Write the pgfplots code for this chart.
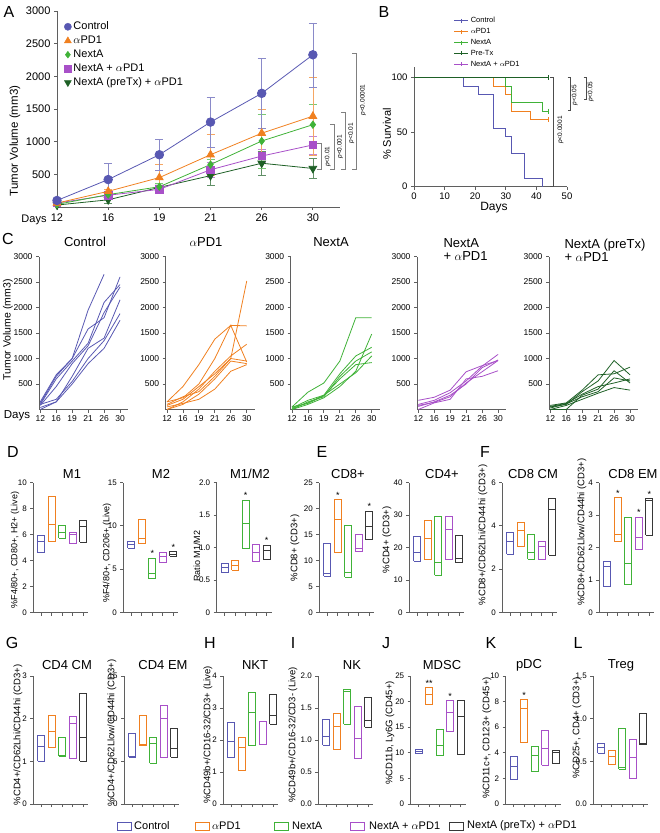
\documentclass[border=0pt]{standalone}
\usepackage{fontspec}
\setmainfont{Liberation Sans}
\usepackage{pgfplots}
\pgfplotsset{compat=1.18}
\usepackage{pgfplotstable}

\definecolor{cA}{RGB}{88,88,178}
\definecolor{cB}{RGB}{240,128,32}
\definecolor{cC}{RGB}{64,178,56}
\definecolor{cD}{RGB}{168,80,200}
\definecolor{cE}{RGB}{30,96,38}
\definecolor{cG}{RGB}{55,55,55}
\definecolor{axc}{RGB}{95,95,95}

\newcommand{\fs}[1]{\fontsize{#1}{#1}\selectfont}

\pgfplotsset{
  every axis/.append style={/pgf/number format/assume math mode=true,
    /pgf/number format/1000 sep={}, scaled ticks=false},
  gp/.style={scale only axis, anchor=south west, clip=false,
    axis x line*=bottom, axis y line*=left,
    axis line style={axc, line width=0.8pt}, tick style={axc, line width=0.8pt},
    tick align=outside, major tick length=3pt},
  bx/.style={gp, width=55pt, xmin=-0.76, xmax=4.48, ymin=0,
    xtick={0,...,4}, xticklabels={}, ticklabel style={font=\fs{8}}},
  r1/.style={bx, height=130pt},
  r2/.style={bx, height=128pt},
  cs/.style={gp, width=89pt, height=153pt, xmin=-0.08, xmax=5.5, ymin=0, ymax=3000,
    xtick={0,...,5}, xticklabels={12,16,19,21,26,30},
    ytick={500,1000,...,3000}, ticklabel style={font=\fs{8.5}}},
}

% one float bar: position, colour, min, median, max
\newcommand{\bx}[5]{%
  \pgfmathsetmacro\xl{#1-0.33}\pgfmathsetmacro\xr{#1+0.33}%
  \addplot[#2, line width=0.8pt] coordinates {(\xl,#3) (\xr,#3) (\xr,#5) (\xl,#5) (\xl,#3)};
  \addplot[#2, line width=0.8pt] coordinates {(\xl,#4) (\xr,#4)};}
\newcommand{\st}[3][*]{\node[above, inner sep=1pt, font=\fs{9}] at (axis cs:#2,#3) {#1};}

% individual tumours, days 12 16 19 21 26 30 at 0..5
\pgfplotstableread{
d L1 L2 L3 L4 L5 L6 L7
0 150 120 100 80 40 100 0
1 680 650 600 450 150 200 150
2 1000 1000 950 900 650 550 500
3 1950 1580 1300 1250 1200 1000 900
4 2650 1800 2100 1900 1400 1350 1200
5 nan 2600 2450 2400 2150 1880 1750
}\ctrl
\pgfplotstableread{
d L1 L2 L3 L4 L5 L6 L7
0 150 80 0 100 0 50 150
1 450 200 150 250 100 120 230
2 880 450 400 350 300 200 500
3 1380 700 750 650 600 400 1000
4 1650 1000 1050 1000 950 750 1650
5 1640 2520 1280 950 900 880 930
}\apd
\pgfplotstableread{
d L1 L2 L3 L4 L5 L6
0 50 30 0 50 0 20
1 340 180 150 120 100 130
2 520 280 250 270 230 280
3 950 700 650 600 450 500
4 1800 1050 950 880 750 720
5 1800 1220 1130 920 1480 1050
}\nexta
\pgfplotstableread{
d L1 L2 L3 L4 L5
0 180 100 60 0 80
1 240 180 150 130 140
2 380 330 280 200 250
3 740 560 500 600 520
4 860 850 820 650 740
5 960 1080 970 760 960
}\combo
\pgfplotstableread{
d L1 L2 L3 L4 L5 L6
0 50 80 0 30 60 0
1 100 130 0 110 120 80
2 350 380 280 250 300 200
3 560 680 400 350 450 320
4 960 700 760 620 520 430
5 680 830 520 560 600 380
}\pretx

\begin{document}
\begin{tikzpicture}
\path[use as bounding box] (0pt,0pt) rectangle (660pt,-833pt);

% ---------------- A
\begin{axis}[gp, at={(57pt,-207pt)}, width=283pt, height=196pt,
  xmin=0, xmax=5.53, ymin=0, ymax=3000,
  xtick={0,...,5}, xticklabels={12,16,19,21,26,30},
  ytick={500,1000,...,3000}, ticklabel style={font=\fs{11}},
  legend style={draw=none, fill=none, at={(0.025,0.955)}, anchor=north west,
    font=\fs{11}, row sep=0.8pt, inner sep=0pt}, legend cell align=left]
\addlegendimage{only marks, mark=*, cA, mark size=3.6}\addlegendentry{Control}
\addlegendimage{only marks, mark=triangle*, cB, mark size=4}\addlegendentry{$\alpha$PD1}
\addlegendimage{only marks, mark=diamond*, cC, mark size=3.4}\addlegendentry{NextA}
\addlegendimage{only marks, mark=square*, cD, mark size=3.2}\addlegendentry{NextA + $\alpha$PD1}
\addlegendimage{only marks, mark=triangle*, cE, mark size=4, mark options={rotate=180}}\addlegendentry{NextA (preTx) + $\alpha$PD1}
\addplot[cE, forget plot, line width=0.8pt, mark=triangle*, mark size=4.4, mark options={rotate=180},
  error bars/.cd, y dir=both, y explicit, error bar style={cE!70, line width=0.7pt},
  error mark options={rotate=90, mark size=4pt, cE!70}]
  coordinates {(0,30)+-(0,20) (1,110)+-(0,50) (2,300)+-(0,40) (3,480)+-(0,150) (4,670)+-(0,190) (5,590)+-(0,150)};
\addplot[cD, forget plot, line width=0.8pt, mark=square*, mark size=3.8,
  error bars/.cd, y dir=both, y explicit, error bar style={cD!70, line width=0.7pt},
  error mark options={rotate=90, mark size=4pt, cD!70}]
  coordinates {(0,60)+-(0,20) (1,180)+-(0,40) (2,270)+-(0,60) (3,570)+-(0,110) (4,780)+-(0,100) (5,950)+-(0,140)};
\addplot[cC, forget plot, line width=0.8pt, mark=diamond*, mark size=3.6,
  error bars/.cd, y dir=both, y explicit, error bar style={cC!70, line width=0.7pt},
  error mark options={rotate=90, mark size=4pt, cC!70}]
  coordinates {(0,40)+-(0,20) (1,190)+-(0,30) (2,310)+-(0,60) (3,650)+-(0,80) (4,1010)+-(0,410) (5,1260)+-(0,320)};
\addplot[cB, forget plot, line width=0.8pt, mark=triangle*, mark size=4.4,
  error bars/.cd, y dir=both, y explicit, error bar style={cB!70, line width=0.7pt},
  error mark options={rotate=90, mark size=4pt, cB!70}]
  coordinates {(0,60)+-(0,20) (1,240)+-(0,40) (2,450)+-(0,210) (3,800)+-(0,320) (4,1130)+-(0,370) (5,1390)+-(0,600)};
\addplot[cA, forget plot, line width=0.8pt, mark=*, mark size=4.3,
  error bars/.cd, y dir=both, y explicit, error bar style={cA!70, line width=0.7pt},
  error mark options={rotate=90, mark size=4pt, cA!70}]
  coordinates {(0,100)+-(0,40) (1,420)+-(0,250) (2,800)+-(0,240) (3,1300)+-(0,380) (4,1740)+-(0,540) (5,2330)+-(0,490)};
\draw[gray, line width=0.6pt] (axis cs:5.08,974) -- (axis cs:5.16,974) -- (axis cs:5.16,577) -- (axis cs:5.08,577);
\draw[gray, line width=0.6pt] (axis cs:5.33,1270) -- (axis cs:5.41,1270) -- (axis cs:5.41,577) -- (axis cs:5.33,577);
\draw[gray, line width=0.6pt] (axis cs:5.55,1444) -- (axis cs:5.63,1444) -- (axis cs:5.63,577) -- (axis cs:5.55,577);
\draw[gray, line width=0.6pt] (axis cs:5.77,2352) -- (axis cs:5.85,2352) -- (axis cs:5.85,577) -- (axis cs:5.77,577);
\node[rotate=90, font=\fs{6.5}] at (axis cs:5.29,770) {\textit{p}<0.01};
\node[rotate=90, font=\fs{6.5}] at (axis cs:5.53,923) {\textit{p}<0.001};
\node[rotate=90, font=\fs{6.5}] at (axis cs:5.75,1128) {\textit{p}<0.01};
\node[rotate=90, font=\fs{6.5}] at (axis cs:5.98,1638) {\textit{p}<0.00001};
\end{axis}
\node[font=\fs{16}] at (9pt,-12pt) {A};
\node[rotate=90, font=\fs{11.5}] at (15pt,-141pt) {Tumor Volume (mm3)};
\node[font=\fs{11}] at (34pt,-220pt) {Days};

% ---------------- B
\begin{axis}[gp, at={(414pt,-186.7pt)}, width=153pt, height=120pt,
  xmin=0, xmax=50, ymin=0, ymax=110, xtick={0,10,...,50}, ytick={0,50,100},
  ticklabel style={font=\fs{9.5}},
  legend style={draw=none, fill=none, at={(0.26,1.43)}, anchor=north west,
    font=\fs{7.5}, row sep=0.2pt, inner sep=0pt}, legend cell align=left,
  legend image code/.code={\draw[#1, mark repeat=2, mark phase=2] plot coordinates {(0pt,0pt) (7pt,0pt) (14pt,0pt)};}]
\addlegendimage{cA, line width=0.8pt, mark=|, mark size=2pt}\addlegendentry{Control}
\addlegendimage{cB, line width=0.8pt, mark=|, mark size=2pt}\addlegendentry{$\alpha$PD1}
\addlegendimage{cC, line width=0.8pt, mark=|, mark size=2pt}\addlegendentry{NextA}
\addlegendimage{cE, line width=0.8pt, mark=|, mark size=2pt}\addlegendentry{Pre-Tx}
\addlegendimage{cD, line width=0.8pt, mark=|, mark size=2pt}\addlegendentry{NextA + $\alpha$PD1}
\addplot[cD, forget plot, const plot, line width=0.9pt] coordinates {(0,100) (44,100)};
\addplot[cA, forget plot, const plot, line width=0.9pt] coordinates {(0,100) (16,92.3) (21,84.6) (26,53.8) (30,46.2) (32,30.8) (36,7.7) (42,0)};
\addplot[cB, forget plot, const plot, line width=0.9pt, mark=|, mark size=2.5pt, mark indices={6}] coordinates {(0,100) (26,92.3) (30,84.6) (32,69.2) (38,61.5) (44,61.5)};
\addplot[cC, forget plot, const plot, line width=0.9pt, mark=|, mark size=2.5pt, mark indices={5}] coordinates {(0,100) (30,92.3) (32,76.9) (42,69.2) (44,69.2)};
\addplot[cE, forget plot, const plot, line width=0.9pt, mark=|, mark size=2.5pt, mark indices={2}] coordinates {(0,100) (44,100)};
\draw[black!70, line width=0.6pt] (axis cs:44.6,100) -- (axis cs:45.4,100) -- (axis cs:45.4,0) -- (axis cs:44.6,0);
\draw[black!70, line width=0.6pt] (axis cs:50.2,100) -- (axis cs:51,100) -- (axis cs:51,70) -- (axis cs:50.2,70);
\draw[black!70, line width=0.6pt] (axis cs:55.4,100) -- (axis cs:56.2,100) -- (axis cs:56.2,80) -- (axis cs:55.4,80);
\node[rotate=90, font=\fs{6.5}] at (axis cs:47.9,52) {\textit{p}<0.0001};
\node[rotate=90, font=\fs{6.5}] at (axis cs:52.5,84) {\textit{p}<0.05};
\node[rotate=90, font=\fs{6.5}] at (axis cs:57.8,87) {\textit{p}<0.05};
\end{axis}
\node[font=\fs{16}] at (384pt,-12pt) {B};
\node[rotate=90, font=\fs{11}] at (387pt,-134pt) {\% Survival};
\node[font=\fs{12}] at (494pt,-208pt) {Days};

% ---------------- C
\begin{axis}[cs, at={(39pt,-409.5pt)}]
\pgfplotsinvokeforeach{L1,L2,L3,L4,L5,L6,L7}{\addplot[cA, line width=0.8pt] table[x=d, y=#1] {\ctrl};}
\end{axis}
\begin{axis}[cs, at={(165.7pt,-409.5pt)}]
\pgfplotsinvokeforeach{L1,L2,L3,L4,L5,L6,L7}{\addplot[cB, line width=0.8pt] table[x=d, y=#1] {\apd};}
\end{axis}
\begin{axis}[cs, at={(290.7pt,-409.5pt)}]
\pgfplotsinvokeforeach{L1,L2,L3,L4,L5,L6}{\addplot[cC, line width=0.8pt] table[x=d, y=#1] {\nexta};}
\end{axis}
\begin{axis}[cs, at={(417pt,-409.5pt)}]
\pgfplotsinvokeforeach{L1,L2,L3,L4,L5}{\addplot[cD, line width=0.8pt] table[x=d, y=#1] {\combo};}
\end{axis}
\begin{axis}[cs, at={(549pt,-409.5pt)}]
\pgfplotsinvokeforeach{L1,L2,L3,L4,L5,L6}{\addplot[cE, line width=0.8pt] table[x=d, y=#1] {\pretx};}
\end{axis}
\node[font=\fs{16}] at (8pt,-239pt) {C};
\node[font=\fs{13}] at (85pt,-242pt) {Control};
\node[font=\fs{13}] at (206pt,-242pt) {$\alpha$PD1};
\node[font=\fs{13}] at (331pt,-242pt) {NextA};
\node[font=\fs{13}, anchor=west, align=left] at (440pt,-250pt) {NextA\\+ $\alpha$PD1};
\node[font=\fs{13}, anchor=west, align=left] at (561pt,-250pt) {NextA (preTx)\\+ $\alpha$PD1};
\node[rotate=90, font=\fs{10.5}] at (8pt,-330pt) {Tumor Volume (mm3)};
\node[font=\fs{11.5}] at (17pt,-416pt) {Days};

% ---------------- D, E, F
\begin{axis}[r1, at={(33.3pt,-612.5pt)}, ymax=10, ytick={0,2,...,10}]
\bx{0}{cA}{4.6}{5.5}{5.9} \bx{1}{cB}{5.5}{6.8}{8.9} \bx{2}{cC}{5.7}{6.2}{6.7}
\bx{3}{cD}{5.3}{6.0}{6.2} \bx{4}{cG}{5.4}{6.6}{7.1}
\end{axis}
\begin{axis}[r1, at={(123.3pt,-612.5pt)}, ymax=15, ytick={0,5,10,15}]
\bx{0}{cA}{7.4}{7.9}{8.2} \bx{1}{cB}{8.0}{8.5}{10.8} \bx{2}{cC}{3.9}{4.5}{6.3}
\bx{3}{cD}{5.8}{6.5}{6.9} \bx{4}{cG}{6.5}{6.7}{7.0}
\st{2}{6.3} \st{4}{7.0}
\end{axis}
\begin{axis}[r1, at={(216.7pt,-612.5pt)}, ymax=2, ytick={0,0.5,1,1.5,2}, yticklabels={0,0.5,1.0,1.5,2.0}]
\bx{0}{cA}{0.61}{0.70}{0.75} \bx{1}{cB}{0.65}{0.73}{0.80} \bx{2}{cC}{0.99}{1.37}{1.73}
\bx{3}{cD}{0.78}{0.93}{1.05} \bx{4}{cG}{0.81}{0.96}{1.04}
\st{2}{1.73} \st{4}{1.04}
\end{axis}
\begin{axis}[r1, at={(319.3pt,-612.5pt)}, ymax=25, ytick={0,5,...,25}]
\bx{0}{cA}{7.0}{7.6}{13.3} \bx{1}{cB}{11.5}{18.0}{21.7} \bx{2}{cC}{6.8}{7.8}{16.8}
\bx{3}{cD}{11.8}{12.3}{15.1} \bx{4}{cG}{14.0}{16.5}{19.5}
\st{1}{21.7} \st{4}{19.5}
\end{axis}
\begin{axis}[r1, at={(409pt,-612.5pt)}, ymax=40, ytick={0,10,...,40}]
\bx{0}{cA}{15.7}{18.5}{23.4} \bx{1}{cB}{16.2}{22.7}{28.2} \bx{2}{cC}{11.4}{15.4}{29.5}
\bx{3}{cD}{16.2}{25.6}{29.5} \bx{4}{cG}{15.3}{16.6}{23.6}
\end{axis}
\begin{axis}[r1, at={(502.3pt,-612.5pt)}, ymax=6, ytick={0,2,4,6}]
\bx{0}{cA}{2.7}{3.3}{3.7} \bx{1}{cB}{3.06}{3.77}{4.15} \bx{2}{cC}{2.45}{2.76}{3.6}
\bx{3}{cD}{2.43}{3.06}{3.3} \bx{4}{cG}{2.65}{4.77}{5.25}
\end{axis}
\begin{axis}[r1, at={(599.3pt,-612.5pt)}, ymax=4, ytick={0,1,...,4}]
\bx{0}{cA}{0.8}{1.41}{1.56} \bx{1}{cB}{2.18}{2.4}{3.53} \bx{2}{cC}{0.85}{1.5}{2.92}
\bx{3}{cD}{1.93}{2.3}{2.94} \bx{4}{cG}{2.38}{3.46}{3.5}
\st{1}{3.53} \st{3}{2.94} \st{4}{3.5}
\end{axis}
\node[font=\fs{16}] at (13pt,-452pt) {D};
\node[font=\fs{16}] at (322pt,-452pt) {E};
\node[font=\fs{16}] at (485pt,-452pt) {F};
\node[font=\fs{13}] at (72pt,-474pt) {M1};
\node[font=\fs{13}] at (161pt,-474pt) {M2};
\node[font=\fs{13}] at (250pt,-474pt) {M1/M2};
\node[font=\fs{13}] at (348pt,-474pt) {CD8+};
\node[font=\fs{13}] at (442pt,-474pt) {CD4+};
\node[font=\fs{13}] at (533pt,-474pt) {CD8 CM};
\node[font=\fs{13}] at (633pt,-474pt) {CD8 EM};
\node[rotate=90, font=\fs{9}] at (15pt,-550pt) {\%F4/80+, CD80+, H2+ (Live)};
\node[rotate=90, font=\fs{9}] at (107pt,-553pt) {\%F4/80+, CD206+ (Live)};
\node[rotate=90, font=\fs{9}] at (197pt,-556pt) {Ratio M1/M2};
\node[rotate=90, font=\fs{9.5}] at (295pt,-548pt) {\%CD8+ (CD3+)};
\node[rotate=90, font=\fs{9.5}] at (387pt,-540pt) {\%CD4+ (CD3+)};
\node[rotate=90, font=\fs{9.5}] at (483pt,-535pt) {\%CD8+/CD62Lhi/CD44hi (CD3+)};
\node[rotate=90, font=\fs{9.5}] at (582pt,-532pt) {\%CD8+/CD62Llow/CD44hi (CD3+)};

% ---------------- G to L
\begin{axis}[r2, at={(33.3pt,-804pt)}, ymax=3, ytick={0,1,2,3}]
\bx{0}{cA}{1.0}{1.36}{1.61} \bx{1}{cB}{1.33}{1.71}{2.08} \bx{2}{cC}{1.12}{1.14}{1.57}
\bx{3}{cD}{1.08}{1.89}{2.06} \bx{4}{cG}{1.01}{1.57}{2.6}
\end{axis}
\begin{axis}[r2, at={(124pt,-804pt)}, ymax=15, ytick={0,5,10,15}]
\bx{0}{cA}{5.5}{5.6}{8.3} \bx{1}{cB}{6.9}{7.0}{10.4} \bx{2}{cC}{4.75}{7.1}{7.8}
\bx{3}{cD}{5.5}{10.0}{11.5} \bx{4}{cG}{5.5}{6.5}{8.84}
\end{axis}
\begin{axis}[r2, at={(223.3pt,-804pt)}, ymax=4, ytick={0,1,...,4}]
\bx{0}{cA}{1.45}{1.97}{2.55} \bx{1}{cB}{1.06}{1.78}{2.08} \bx{2}{cC}{1.82}{2.87}{3.5}
\bx{3}{cD}{1.85}{1.85}{2.58} \bx{4}{cG}{2.49}{2.77}{3.43}
\end{axis}
\begin{axis}[r2, at={(318.3pt,-804pt)}, ymax=2, ytick={0,0.5,1,1.5,2}, yticklabels={0.0,0.5,1.0,1.5,2.0}]
\bx{0}{cA}{0.92}{1.05}{1.32} \bx{1}{cB}{0.86}{1.22}{1.41} \bx{2}{cC}{1.25}{1.76}{1.79}
\bx{3}{cD}{0.71}{1.02}{1.53} \bx{4}{cG}{1.2}{1.3}{1.67}
\end{axis}
\begin{axis}[r2, at={(410.7pt,-804pt)}, ymax=25, ytick={0,5,...,25}]
\bx{0}{cA}{9.8}{10.3}{10.7} \bx{1}{cB}{19.4}{21.4}{22.7} \bx{2}{cC}{9.4}{11.5}{14.5}
\bx{3}{cD}{14.1}{17.9}{20.2} \bx{4}{cG}{9.6}{17.1}{20.3}
\st[**]{1}{22.7} \st{3}{20.2}
\end{axis}
\begin{axis}[r2, at={(505.7pt,-804pt)}, ymax=10, ytick={0,2,...,10}]
\bx{0}{cA}{1.93}{2.92}{3.7} \bx{1}{cB}{4.8}{7.47}{8.18} \bx{2}{cC}{2.58}{3.8}{4.53}
\bx{3}{cD}{3.05}{4.35}{5.78} \bx{4}{cG}{3.18}{4.0}{4.17}
\st{1}{8.18}
\end{axis}
\begin{axis}[r2, at={(593.3pt,-804pt)}, ymax=1.5, ytick={0,0.5,1,1.5}, yticklabels={0.0,0.5,1.0,1.5}]
\bx{0}{cA}{0.597}{0.667}{0.715} \bx{1}{cB}{0.46}{0.558}{0.624} \bx{2}{cC}{0.408}{0.43}{0.883}
\bx{3}{cD}{0.30}{0.55}{0.754} \bx{4}{cG}{0.695}{0.715}{1.056}
\end{axis}
\node[font=\fs{16}] at (12pt,-643pt) {G};
\node[font=\fs{16}] at (210pt,-643pt) {H};
\node[font=\fs{16}] at (293pt,-643pt) {I};
\node[font=\fs{16}] at (386pt,-643pt) {J};
\node[font=\fs{16}] at (491pt,-643pt) {K};
\node[font=\fs{16}] at (578pt,-643pt) {L};
\node[font=\fs{13}] at (67pt,-665pt) {CD4 CM};
\node[font=\fs{13}] at (163pt,-665pt) {CD4 EM};
\node[font=\fs{13}] at (255pt,-665pt) {NKT};
\node[font=\fs{13}] at (352pt,-665pt) {NK};
\node[font=\fs{13}] at (442pt,-665pt) {MDSC};
\node[font=\fs{13}] at (529pt,-665pt) {pDC};
\node[font=\fs{13}] at (621pt,-665pt) {Treg};
\node[rotate=90, font=\fs{9.5}] at (18pt,-735pt) {\%CD4+/CD62Lhi/CD44hi (CD3+)};
\node[rotate=90, font=\fs{9.5}] at (112pt,-733pt) {\%CD4+/CD62Llow/CD44hi (CD3+)};
\node[rotate=90, font=\fs{9.5}] at (208pt,-735pt) {\%CD49b+/CD16-32/CD3+ (Live)};
\node[rotate=90, font=\fs{9.5}] at (293pt,-735pt) {\%CD49b+/CD16-32/CD3- (Live)};
\node[rotate=90, font=\fs{9.5}] at (390pt,-733pt) {\%CD11b, Ly6G (CD45+)};
\node[rotate=90, font=\fs{9.5}] at (487pt,-738pt) {\%CD11c+, CD123+ (CD45+)};
\node[rotate=90, font=\fs{9.5}] at (577pt,-728pt) {\%CD25+, CD4+ (CD3+)};

% ---------------- legend
\draw[cA, line width=0.8pt] (117pt,-822pt) rectangle (131pt,-830pt);
\node[anchor=west, font=\fs{11}, inner sep=0pt] at (134pt,-826pt) {Control};
\draw[cB, line width=0.8pt] (195pt,-822pt) rectangle (209pt,-830pt);
\node[anchor=west, font=\fs{11}, inner sep=0pt] at (212pt,-826pt) {$\alpha$PD1};
\draw[cC, line width=0.8pt] (274pt,-822pt) rectangle (288pt,-830pt);
\node[anchor=west, font=\fs{11}, inner sep=0pt] at (292pt,-826pt) {NextA};
\draw[cD, line width=0.8pt] (350pt,-822pt) rectangle (364pt,-830pt);
\node[anchor=west, font=\fs{11}, inner sep=0pt] at (369pt,-826pt) {NextA + $\alpha$PD1};
\draw[cG, line width=0.8pt] (449pt,-822pt) rectangle (463pt,-830pt);
\node[anchor=west, font=\fs{11}, inner sep=0pt] at (467pt,-826pt) {NextA (preTx) + $\alpha$PD1};
\end{tikzpicture}
\end{document}
